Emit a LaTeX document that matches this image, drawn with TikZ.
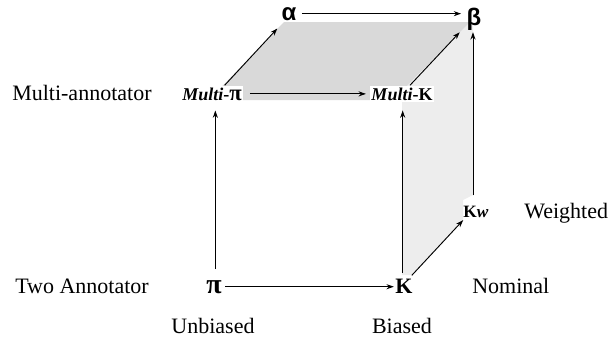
\documentclass[tikz,border=0pt]{standalone}
\usepackage{fontspec}
\setmainfont{Liberation Serif}
\newfontfamily\sansf{Liberation Sans}
\usetikzlibrary{arrows.meta,calc}
\begin{document}
\begin{tikzpicture}[x=0.75pt,y=-0.75pt,
  lbl/.style={font=\fontsize{16.5}{20}\selectfont, anchor=base west, inner sep=0pt},
  lblc/.style={font=\fontsize{16.5}{20}\selectfont, anchor=base, inner sep=0pt},
  greek/.style={font=\sansf\bfseries\fontsize{18}{20}\selectfont, anchor=base, inner sep=0pt},
  bigsym/.style={font=\bfseries\fontsize{16.5}{20}\selectfont, anchor=base, inner sep=0pt},
  midsym/.style={font=\bfseries\fontsize{13.5}{16}\selectfont, anchor=base, inner sep=0pt},
  arr/.style={-{Stealth[length=5.5pt,width=3.8pt]}, line width=0.7pt},
  topface/.style={fill=black!15, draw=none},
  sideface/.style={fill=black!7, draw=none}]
\useasboundingbox (0,0) rectangle (610,343);

% faces
\fill[sideface] (402,91) -- (402,275) -- (412,275) -- (463,221) -- (463,200) -- (473,195) -- (473,22) -- (470,22) -- cycle;
\fill[topface] (209,100) -- (284,22) -- (470,22) -- (393,100) -- cycle;

% nodes
\node[greek] (a) at (289,20) {α};
\node[greek] (b) at (474,25) {β};
\node[midsym, fill=white, inner sep=1pt] (mpi) at (212,100) {\textit{Multi}-{\fontsize{17}{16}\selectfont π}};
\node[midsym, fill=white, inner sep=1pt] (mk) at (402,100) {\textit{Multi}-K};
\node[bigsym, font=\bfseries\fontsize{21}{22}\selectfont] (pi) at (214,293) {π};
\node[bigsym] (k) at (404,293) {K};
\node[font=\bfseries\fontsize{13}{16}\selectfont, anchor=base, inner sep=0pt] (kw) at (476,217) {K\textit{w}};

% labels
\node[lbl] (lma) at (12,100) {Multi-annotator};
\node[lbl] (lta) at (15,293) {Two Annotator};
\node[lbl] (lnom) at (472,293) {Nominal};
\node[lbl] (lw) at (524,218) {Weighted};
\node[lblc] (lub) at (213,333) {Unbiased};
\node[lblc] (lb) at (402,333) {Biased};

% connectors
\draw[arr] ([xshift=4pt]a.east) -- ([xshift=-4pt]a.east -| b.west);
\draw[arr] ([xshift=5pt]mpi.east) -- ([xshift=-3pt]mpi.east -| mk.west);
\draw[arr] ([xshift=2.5pt]pi.east) -- ([xshift=-1pt]pi.east -| k.west);
\draw[arr] ([xshift=1pt,yshift=8pt]pi.north) -- ([xshift=1pt,yshift=-6.5pt]pi.north |- mpi.south);
\draw[arr] ([xshift=-1pt,yshift=4pt]k.north) -- ([xshift=-1pt,yshift=-6.5pt]k.north |- mk.south);
\draw[arr] ([xshift=9.5pt,yshift=0.5pt]mpi.north) -- ([xshift=-3pt,yshift=-6pt]a.south west);
\draw[arr] ([xshift=6pt,yshift=0.5pt]mk.north) -- ([xshift=-5pt,yshift=-1.5pt]b.south west);
\draw[arr] ([xshift=-0.75pt,yshift=2.25pt]k.north east) -- ([xshift=0pt,yshift=-2pt]kw.south west);
\draw[arr] ([xshift=-2.25pt,yshift=7.5pt]kw.north) -- ([xshift=-2.25pt,yshift=-1.5pt]kw.north |- b.south);
\end{tikzpicture}
\end{document}
